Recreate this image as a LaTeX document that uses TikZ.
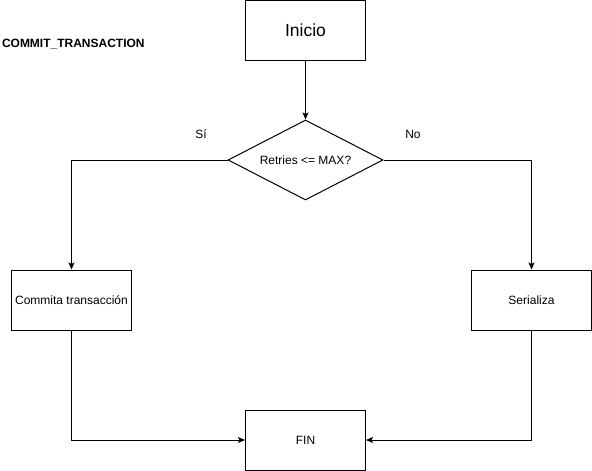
\documentclass[tikz,border=0pt]{standalone}
\usepackage{fontspec}
\setmainfont{Liberation Sans}
\usetikzlibrary{shapes.geometric,arrows.meta}

\begin{document}
\begin{tikzpicture}[x=1pt,y=-1pt,line width=1pt,
    caja/.style={draw, rectangle, minimum width=120pt, minimum height=60pt, inner sep=0pt, font=\fontsize{12}{14}\selectfont},
    decision/.style={draw, diamond, aspect=1.94, minimum width=155pt, minimum height=80pt, inner sep=0pt, font=\fontsize{12}{14}\selectfont},
    flecha/.style={-{Stealth[length=7pt,width=6pt,inset=1.5pt]}},
    etiqueta/.style={font=\fontsize{12}{14}\selectfont}]
    % Fijar el marco del dibujo
    \useasboundingbox (0,0) rectangle (592,471);

    % Titulo del diagrama
    \node[anchor=west, inner sep=0pt, font=\bfseries\fontsize{12}{14}\selectfont] (titulo) at (1.5,44) {COMMIT\_TRANSACTION};

    % Nodos del flujo
    \node[caja, font=\fontsize{17.5}{20}\selectfont] (inicio) at (305.5,30.5) {Inicio};
    \node[decision] (retries) at (305.5,160) {Retries <= MAX?};
    \node[caja] (commita) at (71.5,300) {Commita transacción};
    \node[caja] (serializa) at (531.5,300) {Serializa};
    \node[caja] (fin) at (305.5,440) {FIN};

    % Etiquetas de las ramas
    \node[etiqueta] (si) at (201,134) {Sí};
    \node[etiqueta] (no) at (413,134) {No};

    % Conectores
    \draw[flecha] (inicio) -- (retries);
    \draw[flecha] (retries.west) -| (commita.north);
    \draw[flecha] (retries.east) -| (serializa.north);
    \draw[flecha] (commita.south) |- (fin.west);
    \draw[flecha] (serializa.south) |- (fin.east);
\end{tikzpicture}
\end{document}
